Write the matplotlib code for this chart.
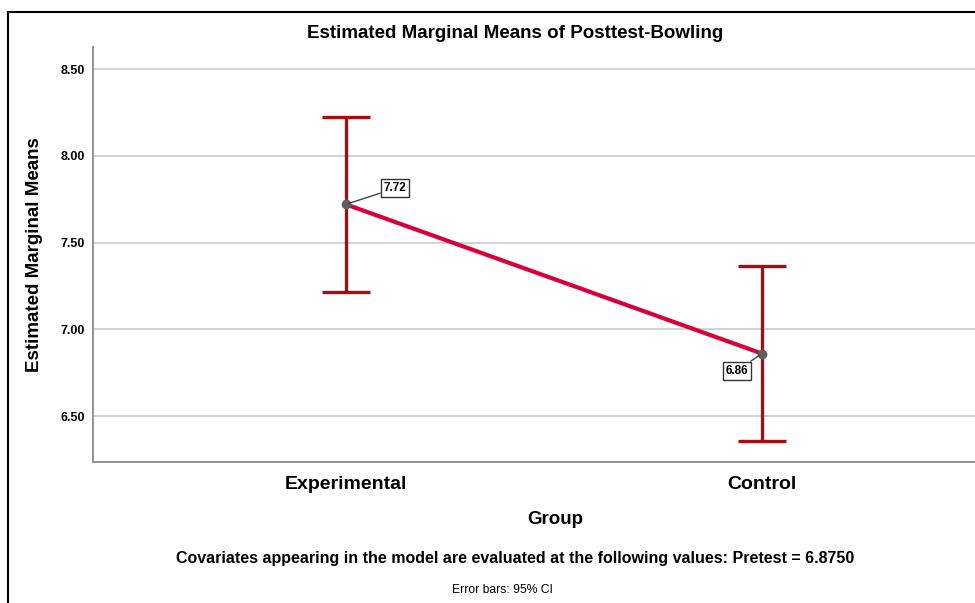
import matplotlib.pyplot as plt

# Estimated marginal means with 95% CI
groups = ['Experimental', 'Control']
means = [7.72, 6.86]
ci_low = [7.215, 6.357]
ci_high = [8.224, 7.364]
yticks = [6.50, 7.00, 7.50, 8.00, 8.50]

plt.rcParams['font.family'] = ['Liberation Sans', 'DejaVu Sans']

fig = plt.figure(figsize=(9.75, 6.03), dpi=100)
ax = fig.add_axes([93 / 975, 141 / 603, 1 - 93 / 975, (462 - 47) / 603])

x = list(range(len(groups)))
err_lo = [m - l for m, l in zip(means, ci_low)]
err_hi = [h - m for m, h in zip(means, ci_high)]

ax.errorbar(x, means, yerr=[err_lo, err_hi], fmt='none', ecolor='#a80c10',
            elinewidth=2.4, capsize=17, capthick=2.4, zorder=3)
ax.plot(x, means, color='#d8003c', lw=3, zorder=4)
ax.plot(x, means, 'o', color='#5f5f5f', ms=6, zorder=5)

# value labels with leader lines
offsets = [(49, 16), (-25, -17)]
for xi, m, off in zip(x, means, offsets):
    ax.annotate(f'{m:.2f}', (xi, m), xytext=off, textcoords='offset pixels',
                ha='center', va='center', fontsize=8.5, fontweight='bold',
                bbox=dict(boxstyle='square,pad=0.25', fc='white', ec='#333333', lw=1),
                arrowprops=dict(arrowstyle='-', color='#444444', lw=1, shrinkA=0, shrinkB=2),
                zorder=6)

ax.set_xlim(-0.608, 1.512)
ax.set_ylim(6.235, 8.627)
ax.set_yticks(yticks)
ax.set_yticklabels([f'{v:.2f}' for v in yticks], fontsize=9, fontweight='bold')
ax.set_xticks(x)
ax.set_xticklabels(groups, fontsize=14, fontweight='bold')
ax.tick_params(axis='both', length=0, pad=6)
ax.tick_params(axis='x', pad=10)
ax.grid(axis='y', color='#d2d2d2', lw=1.4)
ax.set_axisbelow(True)
for s in ['top', 'right']:
    ax.spines[s].set_visible(False)
for s in ['left', 'bottom']:
    ax.spines[s].set_color('#8a8a8a')
    ax.spines[s].set_linewidth(1.3)

fig.text(35 / 975, 1 - 255 / 603, 'Estimated Marginal Means', rotation=90,
         ha='center', va='center', fontsize=13.5, fontweight='bold')
fig.text(515 / 975, 1 - 34 / 603, 'Estimated Marginal Means of Posttest-Bowling',
         ha='center', va='center', fontsize=13.5, fontweight='bold')
fig.text(555 / 975, 1 - 520 / 603, 'Group', ha='center', va='center',
         fontsize=13.5, fontweight='bold')
fig.text(515 / 975, 1 - 558 / 603,
         'Covariates appearing in the model are evaluated at the following values: Pretest = 6.8750',
         ha='center', va='center', fontsize=11.5, fontweight='bold')
fig.text(502 / 975, 1 - 590 / 603, 'Error bars: 95% CI', ha='center', va='center',
         fontsize=8.7)

# outer frame
fig.add_artist(plt.Line2D([8 / 975, 8 / 975], [0, 1 - 12 / 603], color='black', lw=1.5))
fig.add_artist(plt.Line2D([8 / 975, 1], [1 - 12 / 603, 1 - 12 / 603], color='black', lw=1.5))

fig.savefig('out.png', dpi=100)
